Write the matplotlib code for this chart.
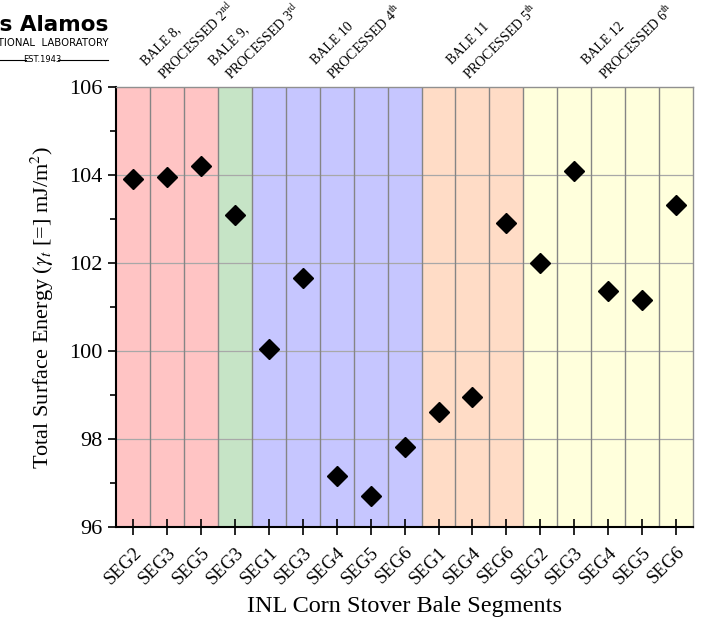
import numpy as np
import matplotlib.pyplot as plt
from matplotlib.transforms import ScaledTranslation

plt.rcParams['font.family'] = 'serif'
plt.rcParams['font.serif'] = ['Liberation Serif', 'DejaVu Serif']
plt.rcParams['mathtext.fontset'] = 'stix'

# segment names along the x axis, grouped by bale
segments = ['SEG2', 'SEG3', 'SEG5',
            'SEG3',
            'SEG1', 'SEG3', 'SEG4', 'SEG5', 'SEG6',
            'SEG1', 'SEG4', 'SEG6',
            'SEG2', 'SEG3', 'SEG4', 'SEG5', 'SEG6']
energy = [103.90, 103.95, 104.20,
          103.10,
          100.05, 101.65, 97.16, 96.70, 97.83,
          98.62, 98.96, 102.91,
          102.00, 104.10, 101.36, 101.15, 103.32]

bale_names = ['BALE 8,', 'BALE 9,', 'BALE 10', 'BALE 11', 'BALE 12']
bale_order = ['PROCESSED 2$^{\\mathrm{nd}}$', 'PROCESSED 3$^{\\mathrm{rd}}$',
              'PROCESSED 4$^{\\mathrm{th}}$', 'PROCESSED 5$^{\\mathrm{th}}$',
              'PROCESSED 6$^{\\mathrm{th}}$']
bale_sizes = [3, 1, 5, 3, 5]
bale_colors = ['#ffc4c4', '#c6e4c6', '#c6c6ff', '#ffdcc6', '#ffffdc']

fig = plt.figure(figsize=(7.06, 6.32), dpi=100)
ax = fig.add_axes([0.1643, 0.1661, 0.8175, 0.6962])

x = np.arange(len(segments))

# shaded bale blocks
start = 0
for n, c in zip(bale_sizes, bale_colors):
    ax.axvspan(start - 0.5, start + n - 0.5, color=c, zorder=0, lw=0)
    start += n

# horizontal grid and segment dividers
for yv in [98, 100, 102, 104]:
    ax.axhline(yv, color='#a8a8a8', lw=0.9, zorder=1)
for k in range(1, len(segments)):
    ax.axvline(k - 0.5, color='#858585', lw=1.0, zorder=1)

ax.plot(x, energy, 'D', color='black', ms=10, zorder=3)

ax.set_xlim(-0.5, len(segments) - 0.5)
ax.set_ylim(96, 106)
ax.set_yticks([96, 98, 100, 102, 104, 106])
ax.set_yticks([97, 99, 101, 103, 105], minor=True)
ax.set_xticks(x)
ax.set_xticklabels(segments, rotation=45, ha='right', rotation_mode='anchor',
                   fontsize=13.5)
# nudge the slanted labels a little to the right
shift = ScaledTranslation(8 / 100, 0, fig.dpi_scale_trans)
for lab in ax.get_xticklabels():
    lab.set_transform(lab.get_transform() + shift)
ax.tick_params(axis='x', direction='inout', length=12, width=1.2, pad=6)
ax.tick_params(axis='y', which='major', direction='out', length=6, width=1.2,
               labelsize=16)
ax.tick_params(axis='y', which='minor', direction='out', length=4, width=1.2)

for side in ['left', 'bottom']:
    ax.spines[side].set_linewidth(1.5)
    ax.spines[side].set_color('black')
for side in ['top', 'right']:
    ax.spines[side].set_linewidth(1.0)
    ax.spines[side].set_color('#909090')

ax.set_xlabel('INL Corn Stover Bale Segments', fontsize=17.5, labelpad=6)
ax.set_ylabel('Total Surface Energy ($\\gamma_t$ [=] mJ/m$^2$)', fontsize=16,
              labelpad=10)

# bale labels above each block
start = 0
for name, order, n in zip(bale_names, bale_order, bale_sizes):
    center = start + (n - 1) / 2
    ax.annotate(name, xy=(center, 1), xycoords=('data', 'axes fraction'),
                xytext=(-15, 15.5), textcoords='offset points', rotation=45,
                rotation_mode='anchor', ha='left', va='baseline', fontsize=10)
    ax.annotate(order, xy=(center, 1), xycoords=('data', 'axes fraction'),
                xytext=(-2, 4.5), textcoords='offset points', rotation=45,
                rotation_mode='anchor', ha='left', va='baseline', fontsize=10)
    start += n

# lab logo in the corner
fig.text(108 / 706, 1 - 31 / 632, 'Los Alamos', ha='right', va='baseline',
         fontsize=15.5, fontweight='bold', family='DejaVu Sans')
fig.text(108 / 706, 1 - 46 / 632, 'NATIONAL  LABORATORY', ha='right',
         va='baseline', fontsize=7.3, family='DejaVu Sans')
fig.text(42 / 706, 1 - 62 / 632, 'EST.1943', ha='center', va='baseline',
         fontsize=6, family='DejaVu Sans')
fig.add_artist(plt.Line2D([0, 26 / 706], [1 - 59.5 / 632] * 2, color='black',
                          lw=0.8))
fig.add_artist(plt.Line2D([58 / 706, 108 / 706], [1 - 59.5 / 632] * 2,
                          color='black', lw=0.8))

fig.savefig('out.png', dpi=100)
